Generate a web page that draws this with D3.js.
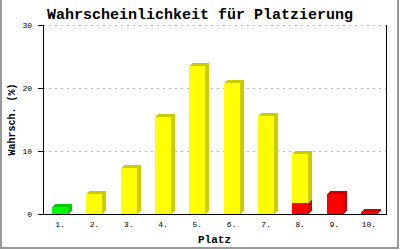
<!DOCTYPE html>
<html><head><meta charset="utf-8">
<script src="https://cdn.jsdelivr.net/npm/d3@7/dist/d3.min.js"></script>
<style>html,body{margin:0;padding:0;background:#fff;}svg{display:block;}</style>
</head><body>
<script>
const categories = ["1.","2.","3.","4.","5.","6.","7.","8.","9.","10."];
const redValues    = [0, 0, 0, 0, 0, 0, 0, 1.7, 3.2, 0.3];
const greenValues  = [1.1, 0, 0, 0, 0, 0, 0, 0, 0, 0];
const yellowValues = [0, 3.2, 7.3, 15.4, 23.5, 20.8, 15.6, 7.9, 0, 0];
const yTicks = [0, 10, 20, 30];
const title = "Wahrscheinlichkeit für Platzierung";
const yTitle = "Wahrsch. (%)";
const xTitle = "Platz";

const W = 400, H = 250;
const m = {l: 43, r: 386, t: 25, b: 214};
const svg = d3.select("body").append("svg").attr("width", W).attr("height", H);

// frame
svg.append("rect").attr("x",0).attr("y",0).attr("width",W).attr("height",H).attr("fill","#fff");
svg.append("path").attr("d",`M1,0V248H398V0`).attr("fill","none").attr("stroke","#999").attr("stroke-width",2);

const x = d3.scaleBand().domain(categories).range([m.l, m.r]);
const y = d3.scaleLinear().domain([0, 30]).range([m.b, m.t]);

// grid
svg.append("g").selectAll("line").data(yTicks.filter(d=>d>0)).join("line")
  .attr("x1", m.l).attr("x2", m.r).attr("y1", d=>y(d)+0.5).attr("y2", d=>y(d)+0.5)
  .attr("stroke","#bbb").attr("stroke-dasharray","2,4");

// stacked data
const table = categories.map((c,i)=>({cat:c, red:redValues[i], green:greenValues[i], yellow:yellowValues[i]}));
const series = d3.stack().keys(["red","green","yellow"])(table);
const colors = {red:["#ff0000","#cc0000"], green:["#00ff00","#00cc00"], yellow:["#ffff00","#cccc00"]};
const bw = 16, dx = 4, dy = 3;
const g = svg.append("g").attr("shape-rendering","crispEdges");
const segs = [];
series.forEach(s=>s.forEach(d=>{ if (d[1]-d[0] > 0) segs.push({key:s.key, cat:d.data.cat, y0:d[0], y1:d[1]}); }));
// determine top segment per category
const topKey = {};
segs.forEach(s=>{ if(!topKey[s.cat] || s.y1 >= topKey[s.cat].y1) topKey[s.cat]=s; });
segs.forEach(s=>{
  const cx = x(s.cat) + x.bandwidth()/2;
  const x0 = Math.round(cx - bw/2), x1 = x0 + bw;
  const yt = Math.round(y(s.y1)), yb = Math.round(y(s.y0));
  const [front, side] = colors[s.key];
  // side
  g.append("path").attr("d",`M${x1},${yb}L${x1},${yt}L${x1+dx},${yt-dy}L${x1+dx},${yb-dy}Z`).attr("fill",side);
  if (topKey[s.cat] === s) {
    g.append("path").attr("d",`M${x0},${yt}L${x0+dx},${yt-dy}L${x1+dx},${yt-dy}L${x1},${yt}Z`).attr("fill",side);
  }
  g.append("rect").attr("x",x0).attr("y",yt).attr("width",bw).attr("height",yb-yt).attr("fill",front);
});

// axes
const ax = svg.append("g").attr("shape-rendering","crispEdges");
ax.append("line").attr("x1",m.l+0.5).attr("x2",m.l+0.5).attr("y1",m.t).attr("y2",m.b+1).attr("stroke","#000");
ax.append("line").attr("x1",m.r+0.5).attr("x2",m.r+0.5).attr("y1",m.t).attr("y2",m.b+1).attr("stroke","#000");
ax.append("line").attr("x1",m.l).attr("x2",m.r+1).attr("y1",m.b+0.5).attr("y2",m.b+0.5).attr("stroke","#000");
ax.selectAll("line.t").data(yTicks).join("line").attr("class","t")
  .attr("x1",m.l-5).attr("x2",m.l).attr("y1",d=>y(d)+0.5).attr("y2",d=>y(d)+0.5).attr("stroke","#000");

const mono = "'Liberation Mono','DejaVu Sans Mono',monospace";
svg.append("g").selectAll("text").data(yTicks).join("text")
  .attr("x", 32).attr("y", d=>y(d)+3).attr("text-anchor","end")
  .attr("font-family",mono).attr("font-size",8).text(d=>d);
svg.append("g").selectAll("text").data(categories).join("text")
  .attr("x", d=>x(d)+x.bandwidth()/2).attr("y", 227).attr("text-anchor","middle")
  .attr("font-family",mono).attr("font-size",8).text(d=>d);

svg.append("text").attr("x",200).attr("y",19).attr("text-anchor","middle")
  .attr("font-family",mono).attr("font-weight","bold").attr("font-size",15).text(title);
svg.append("text").attr("transform",`translate(15,${(m.t+m.b)/2}) rotate(-90)`).attr("text-anchor","middle")
  .attr("font-family",mono).attr("font-weight","bold").attr("font-size",10).text(yTitle);
svg.append("text").attr("x",(m.l+m.r)/2).attr("y",243).attr("text-anchor","middle")
  .attr("font-family",mono).attr("font-weight","bold").attr("font-size",11).text(xTitle);
</script>
</body></html>
